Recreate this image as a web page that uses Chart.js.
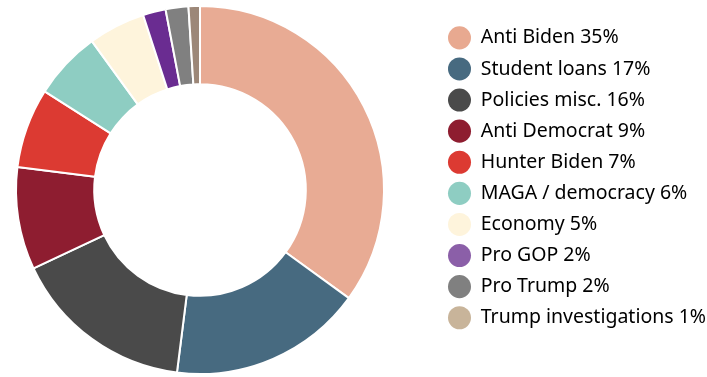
<!DOCTYPE html>
<html>
<head>
<meta charset="utf-8">
<script src="https://cdn.jsdelivr.net/npm/chart.js@4"></script>
<style>
  html, body { margin: 0; padding: 0; background: #fff; }
  #wrap { width: 707px; height: 377px; }
</style>
</head>
<body>
<div id="wrap"><canvas id="adsChart"></canvas></div>
<script>
const categories = ['Anti Biden', 'Student loans', 'Policies misc.', 'Anti Democrat', 'Hunter Biden',
    'MAGA / democracy', 'Economy', 'Pro GOP', 'Pro Trump', 'Trump investigations'];
const shares = [35, 17, 16, 9, 7, 6, 5, 2, 2, 1];
const sliceColors = ['#e8ab94', '#476a80', '#4a4a4a', '#8e1d30', '#dc3a32',
    '#8ecdc2', '#fef4dc', '#6a2c91', '#808080', '#9c8778'];
const legendColors = ['#e8a990', '#476a80', '#4a4a4a', '#8e1d30', '#dc3a32',
    '#8ecdc2', '#fef4dc', '#8b5fa8', '#808080', '#c8b49a'];

const LEGEND_PAD = 11.6;

// doughnut sits on the left, legend column is pinned at x=448
const placeThings = {
    id: 'placeThings',
    afterLayout(chart) {
        const a = chart.chartArea;
        a.left = 15; a.top = 5; a.right = 385; a.bottom = 375;
        a.width = 370; a.height = 370;
        const lg = chart.legend;
        const dx = 448 - LEGEND_PAD - lg.left;
        lg.left += dx; lg.right += dx;
        lg.top = 16.5;
    }
};

const config = {
    type: 'doughnut',
    data: {
        labels: categories.map((c, i) => c + ' ' + shares[i] + '%'),
        datasets: [{
            data: shares,
            backgroundColor: sliceColors,
            borderColor: '#ffffff',
            borderWidth: 2
        }]
    },
    options: {
        responsive: true,
        maintainAspectRatio: false,
        animation: false,
        cutout: '57.5%',
        plugins: {
            tooltip: { enabled: false },
            legend: {
                position: 'right',
                align: 'start',
                labels: {
                    usePointStyle: true,
                    pointStyle: 'circle',
                    pointStyleWidth: 23,
                    boxHeight: 16.3,
                    padding: LEGEND_PAD,
                    color: '#1a1a1a',
                    font: { family: 'Noto Sans', size: 19.5 },
                    generateLabels(chart) {
                        return chart.data.labels.map((text, i) => ({
                            text: text,
                            fillStyle: legendColors[i],
                            strokeStyle: legendColors[i],
                            lineWidth: 0,
                            pointStyle: 'circle',
                            index: i
                        }));
                    }
                }
            }
        }
    },
    plugins: [placeThings]
};

const adsChart = new Chart(document.getElementById('adsChart'), config);
</script>
</body>
</html>
